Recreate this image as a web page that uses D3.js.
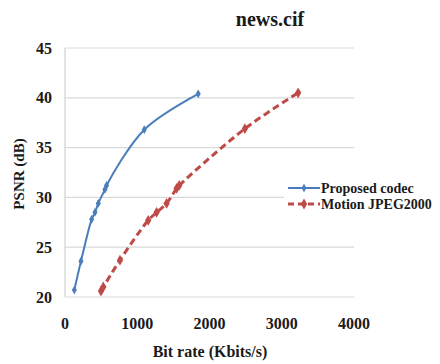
<!DOCTYPE html>
<html><head><meta charset="utf-8">
<script src="https://cdn.jsdelivr.net/npm/d3@7"></script>
<style>body{margin:0;background:#fff}svg{display:block}
text{font-family:"Liberation Serif","Times New Roman",Times,"DejaVu Serif",serif;font-weight:bold}</style>
</head><body>
<script>
const title = "news.cif";
const seriesNames = ["Proposed codec", "Motion JPEG2000"];
const proposedX = [129, 221, 369, 415, 461, 553, 575, 1097, 1844];
const proposedY = [20.7, 23.6, 27.8, 28.5, 29.4, 30.8, 31.2, 36.8, 40.4];
const mjpegX = [498, 530, 761, 1152, 1268, 1406, 1545, 1581, 2490, 3227];
const mjpegY = [20.6, 21.0, 23.7, 27.7, 28.5, 29.4, 30.9, 31.2, 36.9, 40.5];
const xTicks = [0, 1000, 2000, 3000, 4000];
const yTicks = [20, 25, 30, 35, 40, 45];
const xLabel = "Bit rate (Kbits/s)";
const yLabel = "PSNR (dB)";

const W = 440, H = 364;
const svg = d3.select("body").append("svg").attr("width", W).attr("height", H);
const x = d3.scaleLinear().domain([0, 4000]).range([65, 354]);
const y = d3.scaleLinear().domain([20, 45]).range([297, 48]);

// gridlines
svg.append("g").selectAll("line").data(yTicks).join("line")
  .attr("x1", x(0)).attr("x2", x(4000))
  .attr("y1", d => y(d)).attr("y2", d => y(d))
  .attr("stroke", "#d9d9d9").attr("stroke-width", 1.2);
// left axis
svg.append("line").attr("x1", x(0)).attr("x2", x(0)).attr("y1", y(45)).attr("y2", y(20))
  .attr("stroke", "#d0d0d0").attr("stroke-width", 1.2);

// y tick labels
svg.append("g").selectAll("text").data(yTicks).join("text")
  .attr("x", 52).attr("y", d => y(d) + 5.5)
  .attr("text-anchor", "end")
  .attr("font-size", 16).attr("fill", "#1a1a1a").text(d => d);
// x tick labels
svg.append("g").selectAll("text").data(xTicks).join("text")
  .attr("x", d => x(d)).attr("y", 329)
  .attr("text-anchor", "middle")
  .attr("font-size", 16).attr("fill", "#1a1a1a").text(d => d);

// title
svg.append("text").attr("x", 270).attr("y", 26).attr("text-anchor", "middle")
  .attr("font-size", 20).attr("fill", "#1a1a1a").text(title);
// axis labels
svg.append("text").attr("x", 210).attr("y", 357).attr("text-anchor", "middle")
  .attr("font-size", 16).attr("fill", "#1a1a1a").text(xLabel);
svg.append("text").attr("transform", "translate(24,174) rotate(-90)").attr("text-anchor", "middle")
  .attr("font-size", 15).attr("fill", "#1a1a1a").text(yLabel);

const line = d3.line().x(d => x(d[0])).y(d => y(d[1])).curve(d3.curveCatmullRom.alpha(0.5));
const blue = "#4a7ebb", red = "#be4b48";
const pData = proposedX.map((v, i) => [v, proposedY[i]]);
const mData = mjpegX.map((v, i) => [v, mjpegY[i]]);

svg.append("path").datum(pData).attr("d", line).attr("fill", "none")
  .attr("stroke", blue).attr("stroke-width", 2);
svg.append("path").datum(mData).attr("d", line).attr("fill", "none")
  .attr("stroke", red).attr("stroke-width", 3).attr("stroke-dasharray", "7,4");

const diamond = d3.symbol().type(d3.symbolDiamond).size(22);
svg.append("g").selectAll("path").data(pData).join("path")
  .attr("transform", d => `translate(${x(d[0])},${y(d[1])})`).attr("d", diamond).attr("fill", blue);
svg.append("g").selectAll("path").data(mData).join("path")
  .attr("transform", d => `translate(${x(d[0])},${y(d[1])})`).attr("d", d3.symbol().type(d3.symbolDiamond).size(34)).attr("fill", red);

// legend
const lg = svg.append("g");
lg.append("rect").attr("x", 284).attr("y", 178).attr("width", 156).attr("height", 36).attr("fill", "#fff");
const items = [{n: seriesNames[0], c: blue, dash: null, yy: 188, w: 2, s: 22},
               {n: seriesNames[1], c: red, dash: "6,4", yy: 204, w: 3, s: 34}];
items.forEach(it => {
  lg.append("line").attr("x1", 288).attr("x2", 320).attr("y1", it.yy).attr("y2", it.yy)
    .attr("stroke", it.c).attr("stroke-width", it.w).attr("stroke-dasharray", it.dash);
  lg.append("path").attr("transform", `translate(304,${it.yy})`)
    .attr("d", d3.symbol().type(d3.symbolDiamond).size(it.s)).attr("fill", it.c);
  lg.append("text").attr("x", 321).attr("y", it.yy + 4.5)
    .attr("font-size", 14)
    .attr("fill", "#1a1a1a").text(it.n);
});
</script>
</body></html>
